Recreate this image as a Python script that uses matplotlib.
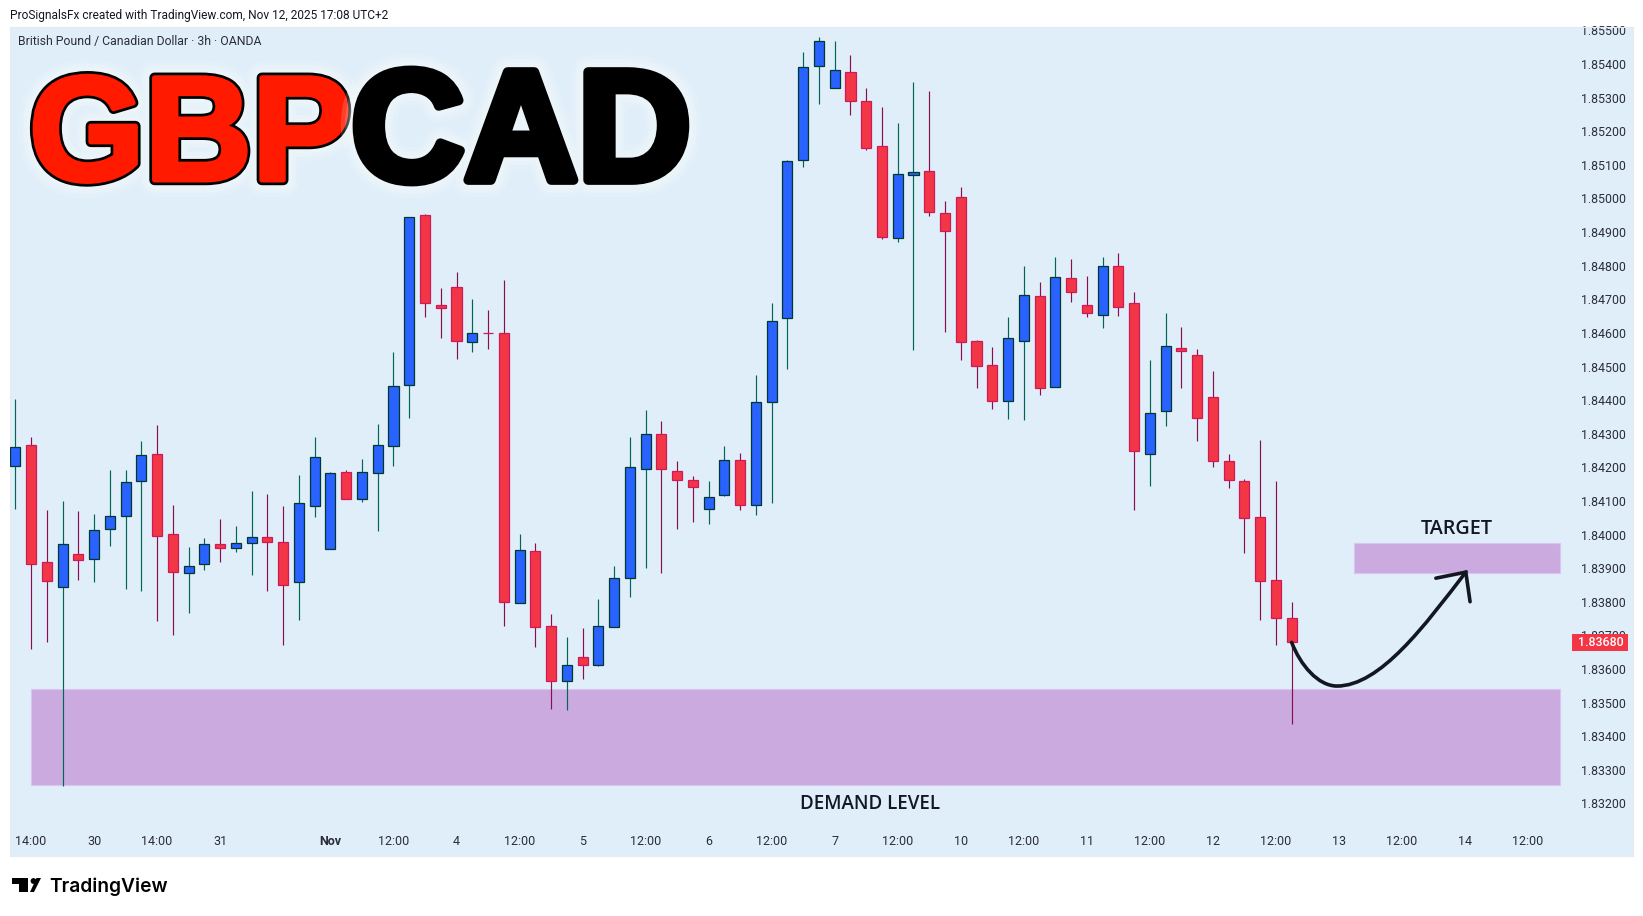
#!/usr/bin/env python
"""GBPCAD 3h candles with demand and target zones, TradingView style."""

import matplotlib
matplotlib.use("Agg")
import matplotlib.pyplot as plt
import matplotlib.patheffects as pe
from matplotlib.patches import Circle, PathPatch, Polygon, Rectangle
from matplotlib.path import Path
from matplotlib.transforms import Affine2D

# Candles, in order, one every 3 hours
opens = [
    1.84203, 1.84265, 1.83917, 1.83843, 1.83941, 1.83926, 1.84015, 1.84054, 1.84158, 1.84239,
    1.84001, 1.83885, 1.83911, 1.83971, 1.83959, 1.83974, 1.83992, 1.83977, 1.83858, 1.84084,
    1.83956, 1.84185, 1.84105, 1.84182, 1.84262, 1.84444, 1.84950, 1.84684, 1.84736, 1.84572,
    1.84601, 1.84601, 1.83795, 1.83950, 1.83727, 1.83563, 1.83634, 1.83613, 1.83724, 1.83870,
    1.84196, 1.84298, 1.84190, 1.84161, 1.84075, 1.84119, 1.84221, 1.84087, 1.84393, 1.84643,
    1.85114, 1.85393, 1.85328, 1.85376, 1.85289, 1.85155, 1.84881, 1.85069, 1.85081, 1.84956,
    1.85004, 1.84575, 1.84504, 1.84396, 1.84575, 1.84709, 1.84438, 1.84762, 1.84682, 1.84652,
    1.84798, 1.84688, 1.84239, 1.84367, 1.84554, 1.84533, 1.84408, 1.84218, 1.84158, 1.84051,
    1.83864, 1.83751,
]
highs = [
    1.84403, 1.84290, 1.84073, 1.84100, 1.84070, 1.84061, 1.84192, 1.84192, 1.84278, 1.84326,
    1.84088, 1.83963, 1.83990, 1.84046, 1.84025, 1.84129, 1.84121, 1.84085, 1.84177, 1.84290,
    1.84186, 1.84192, 1.84224, 1.84329, 1.84543, 1.84944, 1.84954, 1.84734, 1.84781, 1.84701,
    1.84668, 1.84757, 1.84001, 1.83974, 1.83763, 1.83695, 1.83722, 1.83808, 1.83906, 1.84290,
    1.84371, 1.84337, 1.84219, 1.84173, 1.84160, 1.84263, 1.84243, 1.84474, 1.84689, 1.85114,
    1.85436, 1.85480, 1.85469, 1.85427, 1.85328, 1.85272, 1.85225, 1.85347, 1.85320, 1.84992,
    1.85034, 1.84579, 1.84558, 1.84647, 1.84799, 1.84751, 1.84826, 1.84820, 1.84769, 1.84826,
    1.84838, 1.84722, 1.84519, 1.84659, 1.84618, 1.84552, 1.84487, 1.84240, 1.84165, 1.84281,
    1.84159, 1.83799,
]
lows = [
    1.84077, 1.83660, 1.83681, 1.83252, 1.83865, 1.83860, 1.83967, 1.83839, 1.83833, 1.83743,
    1.83702, 1.83767, 1.83895, 1.83919, 1.83949, 1.83880, 1.83833, 1.83672, 1.83746, 1.84053,
    1.83956, 1.84105, 1.84098, 1.84011, 1.84205, 1.84348, 1.84648, 1.84586, 1.84523, 1.84544,
    1.84553, 1.83729, 1.83795, 1.83666, 1.83481, 1.83478, 1.83571, 1.83609, 1.83724, 1.83814,
    1.83901, 1.83884, 1.84015, 1.84038, 1.84032, 1.84114, 1.84074, 1.84059, 1.84095, 1.84493,
    1.85095, 1.85282, 1.85328, 1.85249, 1.85145, 1.84880, 1.84871, 1.84550, 1.84949, 1.84604,
    1.84520, 1.84437, 1.84374, 1.84345, 1.84342, 1.84416, 1.84438, 1.84693, 1.84648, 1.84615,
    1.84651, 1.84074, 1.84145, 1.84324, 1.84437, 1.84279, 1.84202, 1.84139, 1.83946, 1.83746,
    1.83672, 1.83437,
]
closes = [
    1.84260, 1.83911, 1.83861, 1.83971, 1.83923, 1.84012, 1.84054, 1.84155, 1.84236, 1.83995,
    1.83888, 1.83905, 1.83971, 1.83959, 1.83974, 1.83992, 1.83977, 1.83849, 1.84093, 1.84230,
    1.84182, 1.84105, 1.84185, 1.84265, 1.84443, 1.84944, 1.84688, 1.84673, 1.84575, 1.84599,
    1.84601, 1.83798, 1.83955, 1.83724, 1.83563, 1.83613, 1.83613, 1.83727, 1.83870, 1.84200,
    1.84298, 1.84194, 1.84161, 1.84140, 1.84113, 1.84221, 1.84087, 1.84393, 1.84634, 1.85111,
    1.85390, 1.85468, 1.85381, 1.85289, 1.85149, 1.84884, 1.85072, 1.85078, 1.84959, 1.84902,
    1.84572, 1.84501, 1.84396, 1.84584, 1.84712, 1.84435, 1.84765, 1.84721, 1.84658, 1.84798,
    1.84676, 1.84248, 1.84361, 1.84560, 1.84545, 1.84346, 1.84218, 1.84161, 1.84048, 1.83861,
    1.83751, 1.83680,
]

price_ticks = [1.832 + 0.001 * n for n in range(24)]
time_tick_pos = [1, 5, 9, 13, 20, 24, 28, 32, 36, 40, 44, 48, 52, 56, 60, 64, 68, 72, 76, 80, 84, 88, 92, 96]
time_tick_labels = ["14:00", "30", "14:00", "31", "Nov", "12:00", "4", "12:00", "5", "12:00", "6", "12:00",
                    "7", "12:00", "10", "12:00", "11", "12:00", "12", "12:00", "13", "12:00", "14", "12:00"]

last_price = 1.83680
demand_zone = (1, 98.0, 1.83254, 1.83539)  # first bar, last bar, low, high
target_zone = (84.98, 98.0, 1.83885, 1.83974)

# Hand drawn arrow, as bar index and price
arrow_path = [(81.0, 1.83679), (81.54, 1.83612), (82.68, 1.83549), (83.87, 1.83549),
              (86.62, 1.83549), (89.47, 1.83731), (92.05, 1.83888)]
arrow_head = [(90.15, 1.83870), (92.05, 1.83888), (92.32, 1.83800)]

W, H = 1643, 916
PANE = "#e0eef9"
INK = "#131722"
UP_BODY, UP_EDGE, UP_WICK = "#2962ff", "#00392f", "#00665a"
DOWN_BODY, DOWN_EDGE, DOWN_WICK = "#f23645", "#cf1a5a", "#880e52"
ZONE_FILL, ZONE_EDGE = "#cbaae0", "#dcc4f2"
UI_FONT = ["Roboto", "DejaVu Sans"]

plt.rcParams["font.family"] = UI_FONT


def pixel_transform():
    """Figure transform in image pixels with the origin at top left."""
    return Affine2D().scale(1 / W, -1 / H).translate(0, 1) + fig.transFigure


fig = plt.figure(figsize=(W / 100, H / 100), dpi=100, facecolor="white")
ax = fig.add_axes([10 / W, 1 - 856 / H, 1623 / W, 829 / H], facecolor=PANE)
ax.set_xlim(-0.336, 102.66)
ax.set_ylim(1.830432, 1.855104)
for spine in ax.spines.values():
    spine.set_color("#e6ebf0")
    spine.set_linewidth(0.8)

# Zones sit under the candles
for first, last, low, high in (demand_zone, target_zone):
    ax.add_patch(Rectangle((first, low), last - first, high - low, facecolor=ZONE_FILL,
                           edgecolor=ZONE_EDGE, linewidth=0.8, zorder=1))

# Candles
index = list(range(len(opens)))
is_up = [c > o for o, c in zip(opens, closes)]
wick_colors = [UP_WICK if up else DOWN_WICK for up in is_up]
ax.vlines(index, lows, highs, colors=wick_colors, linewidth=0.85, zorder=2)
ax.bar(index, [abs(c - o) for o, c in zip(opens, closes)], bottom=[min(o, c) for o, c in zip(opens, closes)],
       width=0.64, color=[UP_BODY if up else DOWN_BODY for up in is_up],
       edgecolor=[UP_EDGE if up else DOWN_EDGE for up in is_up], linewidth=0.9, zorder=3)

# Axes labels live inside the pane, as on TradingView
ax.yaxis.tick_right()
ax.set_yticks(price_ticks, [f"{p:.5f}" for p in price_ticks])
ax.tick_params(axis="y", length=0, pad=-37.5, labelsize=8.9, labelcolor="#2a2e39")
ax.set_xticks(time_tick_pos, time_tick_labels)
ax.tick_params(axis="x", length=0, pad=-15, labelsize=9, labelcolor="#2a2e39")
for label in ax.get_xticklabels():
    if label.get_text() == "Nov":
        label.set_fontweight("bold")

fig.add_artist(Rectangle((1572, 634), 56, 17, facecolor="#f23645", edgecolor="none",
                         transform=pixel_transform(), zorder=5))
fig.text(1601, 642.5, f"{last_price:.5f}", transform=pixel_transform(), ha="center", va="center",
         fontsize=8.9, color="white", fontweight="medium", zorder=6)

# Arrow
codes = [Path.MOVETO] + [Path.CURVE4] * 6
ax.add_patch(PathPatch(Path(arrow_path, codes), facecolor="none", edgecolor=INK, linewidth=2.6,
                       capstyle="round", zorder=4))
ax.plot(*zip(*arrow_head), color=INK, linewidth=2.6, solid_capstyle="round", solid_joinstyle="miter", zorder=4)

label_font = ["Open Sans", "DejaVu Sans"]
ax.text(54.25, 1.83199, "DEMAND LEVEL", ha="center", va="center", fontsize=13.5, fontweight="semibold",
        family=label_font, color=INK, zorder=4)
ax.text(91.45, 1.84017, "TARGET", ha="center", va="center", fontsize=14.2, fontweight="semibold",
        family=label_font, color=INK, zorder=4)

# Big symbol title with soft white halo
halo = [pe.withStroke(linewidth=w, foreground="white", alpha=0.16) for w in (24, 18, 13)]
title_kw = dict(transform=pixel_transform(), ha="left", va="baseline",
                family="Liberation Sans", fontweight="bold", zorder=7)
fig.text(29, 180, "GBP", color="#ff1a00", fontsize=107,
         path_effects=halo + [pe.withStroke(linewidth=7.5, foreground="black"),
                              pe.withStroke(linewidth=3.6, foreground="#ff1a00")], **title_kw)
fig.text(351, 180, "CAD", color="black", fontsize=113,
         path_effects=halo + [pe.withStroke(linewidth=7, foreground="black")], **title_kw)

# Header and legend
fig.text(10, 15, "ProSignalsFx created with TradingView.com, Nov 12, 2025 17:08 UTC+2",
         transform=pixel_transform(), ha="left", va="center", fontsize=8.6, color=INK)
fig.text(18, 42, "British Pound / Canadian Dollar · 3h · OANDA",
         transform=pixel_transform(), ha="left", va="center", fontsize=8.8, color="#2a2e39")

# TradingView logo
logo = pixel_transform()
fig.add_artist(Polygon([(12, 878), (28, 878), (28, 892), (19, 892), (19, 884), (12, 884)],
                       closed=True, facecolor="black", edgecolor="none", transform=logo))
fig.add_artist(Circle((33.5, 881), 2.9, facecolor="black", edgecolor="none", transform=logo))
fig.add_artist(Polygon([(34, 892), (41, 878), (36.5, 878), (30, 892)],
                       closed=True, facecolor="black", edgecolor="none", transform=logo))
fig.text(49, 886.5, "TradingView", transform=logo, ha="left", va="center", fontsize=13.8,
         fontweight="semibold", family=["Inter", "DejaVu Sans"], color="black")

fig.savefig("out.png", dpi=100)
